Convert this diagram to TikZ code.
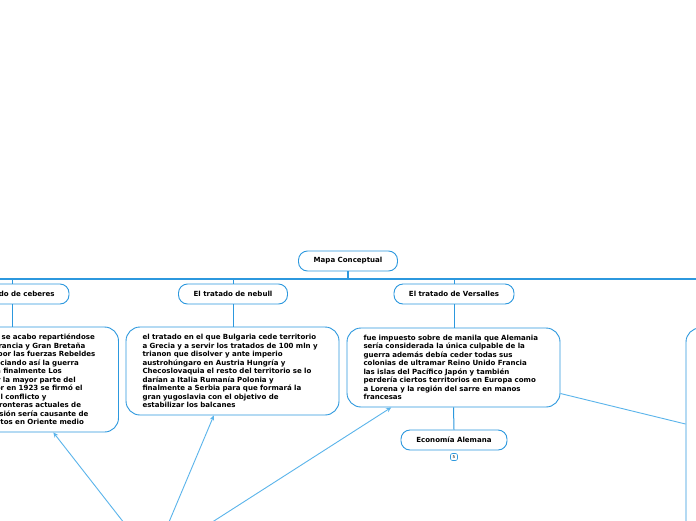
\documentclass[tikz,border=0pt]{standalone}
\usepackage{fontspec}
\setmainfont{DejaVu Sans}
\usepackage{tikz}
\usetikzlibrary{arrows.meta, positioning}
\definecolor{mmborde}{RGB}{44,152,222}
\definecolor{mmlinea}{RGB}{90,180,235}

\begin{document}
\begin{tikzpicture}[
  x=1pt, y=-1pt,
  every node/.style={font=\fontsize{7.05}{8.5}\selectfont\bfseries},
  tema/.style={rectangle, draw=mmborde, line width=0.9pt, rounded corners=9pt, fill=white, minimum height=20pt, inner sep=0pt},
  detalle/.style={rectangle, draw=mmborde, line width=0.9pt, rounded corners=14pt, fill=white, text width=180pt, inner xsep=16.5pt, inner ysep=0pt, align=left},
  rama/.style={draw=mmborde, line width=1pt},
  tronco/.style={draw=mmborde, line width=2pt},
  enlace/.style={-{Stealth[length=5pt, width=4.5pt]}, draw=mmlinea, line width=0.9pt},
]
  \fill[white] (0,0) rectangle (696,520);
  \useasboundingbox (0,0) rectangle (696,520);

  \coordinate (barraIzq) at (-10,279);
  \coordinate (barraDer) at (706,279);
  \coordinate (origen) at (153,560);

  \node[tema, minimum width=99pt] (mapa) at (348,261) {Mapa Conceptual};
  \node[tema, minimum width=114pt] (ceberes) at (12,294) {El tratado de ceberes};
  \node[tema, minimum width=109pt] (nebull) at (233,294) {El tratado de nebull};
  \node[tema, minimum width=120pt] (versalles) at (454,294) {El tratado de Versalles};

  \node[detalle, minimum height=105pt] (ceberesTxt) at (12,379.5) {el imperio otomano se acabo repartiéndose\\
    el territorio entre Francia y Gran Bretaña\\
    que fue rechazado por las fuerzas Rebeldes\\
    los nacionalistas iniciando así la guerra\\
    de resistencia turca finalmente Los\\
    turcos, al recuperar la mayor parte del\\
    territorio y posterior en 1923 se firmó el\\
    tratado que da fin al conflicto y\\
    que estableció las fronteras actuales de\\
    Turquía y dicha división sería causante de\\
    varios de los conflictos en Oriente medio};
  \node[detalle, minimum height=88pt] (nebullTxt) at (232.5,371) {el tratado en el que Bulgaria cede territorio\\
    a Grecia y a servir los tratados de 100 mln y\\
    trianon que disolver y ante imperio\\
    austrohúngaro en Austria Hungría y\\
    Checoslovaquia el resto del territorio se lo\\
    darían a Italia Rumanía Polonia y\\
    finalmente a Serbia para que formará la\\
    gran yugoslavia con el objetivo de\\
    estabilizar los balcanes};
  \node[detalle, minimum height=79pt] (versallesTxt) at (453.5,367.5) {fue impuesto sobre de manila que Alemania\\
    sería considerada la única culpable de la\\
    guerra además debía ceder todas sus\\
    colonias de ultramar Reino Unido Francia\\
    las islas del Pacífico Japón y también\\
    perdería ciertos territorios en Europa como\\
    a Lorena y la región del sarre en manos\\
    francesas};
  \node[detalle, minimum height=244pt] (derecha) at (792.5,450) {};

  \node[tema, minimum width=106pt] (economia) at (454,440) {Economía Alemana};
  \node[draw=mmborde, line width=0.6pt, rounded corners=2pt, minimum size=7pt, inner sep=0pt, font=\fontsize{4}{4}\selectfont] (nota) at (454,457) {5};

  \draw[tronco] (barraIzq) -- (barraDer);
  \draw[tronco] (mapa.south) -- (mapa.south |- barraIzq);
  \draw[rama] (ceberes.north) -- (ceberes.north |- barraIzq);
  \draw[rama] (nebull.north) -- (nebull.north |- barraIzq);
  \draw[rama] (versalles.north) -- (versalles.north |- barraIzq);
  \draw[rama] (ceberes.south) -- (ceberes.south |- ceberesTxt.north);
  \draw[rama] (nebull.south) -- (nebull.south |- nebullTxt.north);
  \draw[rama] (versalles.south) -- (versalles.south |- versallesTxt.north);
  \draw[rama] (versallesTxt.south) -- (economia.north);

  \draw[enlace] (origen) -- (ceberesTxt);
  \draw[enlace] (origen) -- (nebullTxt);
  \draw[enlace] (origen) -- (versallesTxt);
  \draw[draw=mmlinea, line width=0.9pt] (versallesTxt) -- (derecha);
\end{tikzpicture}
\end{document}
